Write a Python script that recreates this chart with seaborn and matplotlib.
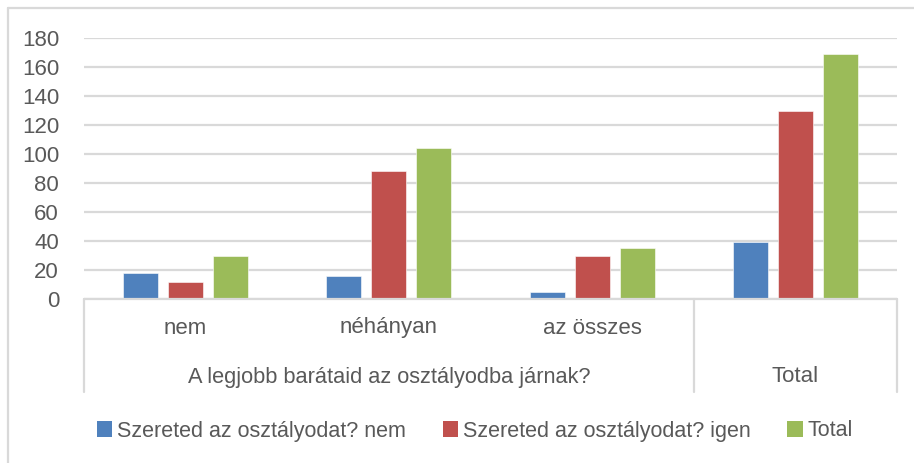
import matplotlib
matplotlib.use("Agg")
import matplotlib.pyplot as plt
from matplotlib.lines import Line2D
from matplotlib.patches import Patch
import matplotlib.transforms as mtransforms
import pandas as pd
import seaborn as sns

# Data
categories = ["nem", "néhányan", "az összes", "Total"]
series_names = ["Szereted az osztályodat? nem", "Szereted az osztályodat? igen", "Total"]
values_nem = [18, 16, 5, 39]
values_igen = [12, 88, 30, 130]
values_total = [30, 104, 35, 169]
group_label = "A legjobb barátaid az osztályodba járnak?"
y_ticks = [0, 20, 40, 60, 80, 100, 120, 140, 160, 180]

colors = ["#4F81BD", "#C0504D", "#9BBB59"]
text_color = "#595959"
grid_color = "#D9D9D9"

rows = []
for name, vals in zip(series_names, [values_nem, values_igen, values_total]):
    for cat, v in zip(categories, vals):
        rows.append({"cat": cat, "series": name, "value": v})
df = pd.DataFrame(rows)

sns.set_theme(style="white")
plt.rcParams["font.family"] = ["Liberation Sans", "DejaVu Sans"]

W, H = 914, 463
fig = plt.figure(figsize=(W / 100, H / 100), dpi=100)
fig.patch.set_facecolor("white")

def px(x0, y0, x1, y1):
    return [x0 / W, 1 - y1 / H, (x1 - x0) / W, (y1 - y0) / H]

ax = fig.add_axes(px(84, 38, 897, 299))

sns.barplot(data=df, x="cat", y="value", hue="series", order=categories,
            hue_order=series_names, palette=colors, width=0.665, gap=0.22,
            saturation=1, edgecolor="white", linewidth=0.4, legend=False, ax=ax,
            zorder=3)

ax.set_xlim(-0.5, 3.5)
ax.set_ylim(0, 180)
ax.set_yticks(y_ticks)
ax.set_yticklabels([str(t) for t in y_ticks], fontsize=16, color=text_color)
ax.tick_params(axis="y", length=0, pad=18)
ax.set_xticks([])
ax.set_xlabel("")
ax.set_ylabel("")
for s in ax.spines.values():
    s.set_visible(False)
ax.yaxis.grid(True, color=grid_color, linewidth=1.6, zorder=0)
ax.set_axisbelow(True)

# baseline of the category axis
ax.plot([-0.5, 3.5], [0, 0], color=grid_color, linewidth=1.6, zorder=4, clip_on=False)

# multi-level category axis
trans = mtransforms.blended_transform_factory(ax.transData, ax.transAxes)
ax_h = 299 - 38
sep_bottom = -(392 - 299) / ax_h
for xs in [-0.5, 2.5, 3.5]:
    ax.plot([xs, xs], [0, sep_bottom], color=grid_color, linewidth=1.6,
            transform=trans, clip_on=False)

lvl1_y = -(328 - 299) / ax_h
lvl2_y = -(377 - 299) / ax_h
for i, cat in enumerate(categories[:3]):
    ax.text(i, lvl1_y, cat, transform=trans, ha="center", va="center",
            fontsize=16, color=text_color)
ax.text(1.0, lvl2_y, group_label, transform=trans, ha="center", va="center",
        fontsize=15.7, color=text_color)
ax.text(3.0, lvl2_y, categories[3], transform=trans, ha="center", va="center",
        fontsize=16, color=text_color)

# legend
handles = [Patch(facecolor=c, edgecolor="none") for c in colors]
leg = fig.legend(handles, series_names, loc="center", ncol=3,
                 bbox_to_anchor=(475 / W, 1 - 431 / H), frameon=False,
                 fontsize=15.5, handlelength=0.7, handleheight=0.7,
                 handletextpad=0.25, columnspacing=1.7, labelcolor=text_color)

# outer chart frame
fig.add_artist(Line2D([8 / W, 8 / W], [0, 1 - 8 / H], color=grid_color, linewidth=1.6))
fig.add_artist(Line2D([8 / W, 1], [1 - 8 / H, 1 - 8 / H], color=grid_color, linewidth=1.6))

fig.savefig("out.png", dpi=100)
